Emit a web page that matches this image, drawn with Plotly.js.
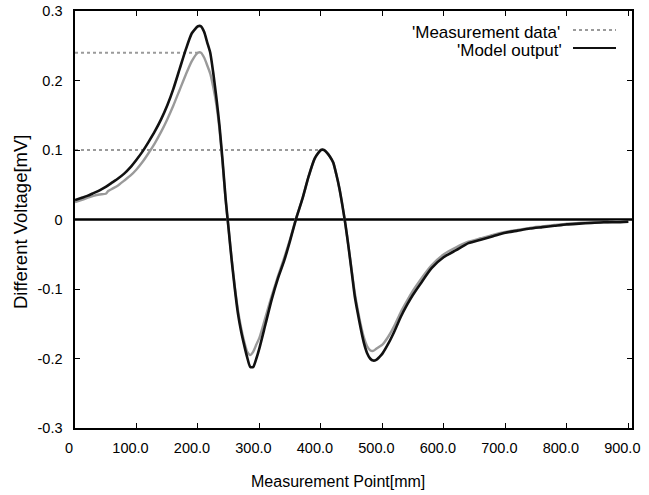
<!DOCTYPE html>
<html>
<head>
<meta charset="utf-8">
<script src="https://cdn.plot.ly/plotly-3.0.1.min.js"></script>
<style>html,body{margin:0;padding:0;background:#fff;}#chart{width:649px;height:495px;}</style>
</head>
<body>
<div id="chart"></div>
<script>
// Model output (black)
const modelX = [0,10,20,30,40,50,60,70,80,90,100,110,120,130,140,150,160,170,180,190,200,205,210,215,220,225,230,235,240,245,250,255,260,265,270,275,280,285,290,295,300,310,320,330,340,350,360,370,380,390,400,405,410,415,420,425,430,435,440,445,450,455,460,465,470,475,480,485,490,495,500,510,520,530,540,550,560,580,600,620,640,660,680,700,720,740,760,780,800,820,840,860,880,900];
const modelY = [0.028,0.031,0.034,0.038,0.042,0.047,0.053,0.059,0.066,0.075,0.086,0.098,0.112,0.127,0.144,0.164,0.188,0.216,0.244,0.268,0.278,0.278,0.270,0.255,0.240,0.210,0.175,0.135,0.085,0.030,-0.015,-0.060,-0.100,-0.135,-0.160,-0.180,-0.198,-0.212,-0.212,-0.200,-0.185,-0.150,-0.115,-0.085,-0.060,-0.030,0.002,0.030,0.062,0.088,0.100,0.100,0.096,0.090,0.082,0.065,0.045,0.020,-0.008,-0.040,-0.075,-0.110,-0.135,-0.158,-0.178,-0.192,-0.200,-0.203,-0.202,-0.198,-0.193,-0.178,-0.160,-0.140,-0.123,-0.108,-0.095,-0.070,-0.054,-0.044,-0.034,-0.029,-0.024,-0.019,-0.016,-0.013,-0.011,-0.009,-0.007,-0.006,-0.005,-0.004,-0.004,-0.003];
// Measurement data (gray)
const measX = [0,10,20,30,40,50,54,60,70,80,90,100,110,120,130,140,150,160,170,180,190,200,205,210,215,220,225,230,235,240,245,250,255,260,265,270,275,280,285,290,295,300,310,320,330,340,350,360,370,380,390,400,405,410,415,420,425,430,435,440,445,450,455,460,465,470,475,480,485,490,495,500,510,520,530,540,550,560,580,600,620,640,660,680,700,720,740,760,780,800,820,840,860,880,900];
const measY = [0.025,0.028,0.031,0.034,0.036,0.037,0.041,0.044,0.049,0.056,0.063,0.072,0.083,0.096,0.110,0.126,0.144,0.164,0.186,0.208,0.228,0.240,0.240,0.233,0.222,0.210,0.190,0.165,0.130,0.082,0.028,-0.015,-0.058,-0.097,-0.130,-0.155,-0.175,-0.190,-0.195,-0.190,-0.180,-0.170,-0.140,-0.110,-0.082,-0.056,-0.028,0.003,0.030,0.062,0.088,0.100,0.100,0.096,0.090,0.082,0.065,0.045,0.020,-0.008,-0.040,-0.073,-0.105,-0.130,-0.152,-0.170,-0.182,-0.188,-0.189,-0.186,-0.183,-0.180,-0.168,-0.152,-0.133,-0.117,-0.102,-0.089,-0.066,-0.050,-0.040,-0.032,-0.027,-0.022,-0.018,-0.015,-0.012,-0.010,-0.008,-0.006,-0.005,-0.004,-0.004,-0.003,-0.003];
// Horizontal guide segments of the measurement data (peak levels)
const guideLevels = [0.24, 0.10];
const guideEnds = [205, 405];
// Ticks
const xTickVals = [0,100,200,300,400,500,600,700,800,900];
const xTickText = ["0","100.0","200.0","300.0","400.0","500.0","600.0","700.0","800.0","900.0"];
const yTickVals = [-0.3,-0.2,-0.1,0,0.1,0.2,0.3];
const yTickText = ["-0.3","-0.2","-0.1","0","0.1","0.2","0.3"];
const seriesNames = ["'Measurement data'","'Model output'"];
const xTitle = 'Measurement Point[mm]';
const yTitle = 'Different Voltage[mV]';

const gray = '#9a9a9a';
const traces = [];
guideLevels.forEach((lv, i) => {
  traces.push({x:[0, guideEnds[i]], y:[lv, lv], mode:'lines', showlegend:false, hoverinfo:'skip',
    line:{color:gray, width:2, dash:'dot'}});
});
traces.push({x:[0, 906], y:[0, 0], mode:'lines', showlegend:false, hoverinfo:'skip', line:{color:'#000', width:2.4}});
traces.push({x:measX, y:measY, mode:'lines', name:seriesNames[0], showlegend:false, line:{color:gray, width:2.4, shape:'spline', smoothing:0.6}});
traces.push({x:modelX, y:modelY, mode:'lines', name:seriesNames[1], showlegend:false, line:{color:'#111', width:2.6, shape:'spline', smoothing:0.6}});

const FF = '"Liberation Sans", Arial, Helvetica, sans-serif';
const L = 75, R = 632, T = 11, B = 428;
const px = v => (v - L) / (R - L);
const py = v => (B - v) / (B - T);
const layout = {
  width:649, height:495,
  margin:{l:L, r:649-R, t:T, b:495-B},
  paper_bgcolor:'#fff', plot_bgcolor:'#fff',
  font:{family:FF, color:'#000', size:14},
  showlegend:false,
  xaxis:{range:[0,906], tickvals:xTickVals, ticktext:xTickText, ticks:'inside', ticklen:5, tickcolor:'#000',
    showline:true, mirror:'ticks', linecolor:'#000', linewidth:1.6, showgrid:false, zeroline:false,
    ticklabelstandoff:6, ticklabelshift:-6, tickfont:{family:FF, size:14.5}},
  yaxis:{range:[-0.3,0.3], tickvals:yTickVals, ticktext:yTickText, ticks:'inside', ticklen:5, tickcolor:'#000',
    showline:true, mirror:'ticks', linecolor:'#000', linewidth:1.6, showgrid:false, zeroline:false,
    ticklabelstandoff:8, tickfont:{family:FF, size:14.5}},
  annotations:[
    {xref:'paper', yref:'paper', x:px(338), y:py(481), xanchor:'center', yanchor:'middle', showarrow:false,
     text:xTitle, font:{family:FF, size:16}},
    {xref:'paper', yref:'paper', x:px(21), y:py(222), xanchor:'center', yanchor:'middle', showarrow:false, textangle:-90,
     text:yTitle, font:{family:FF, size:18.5}},
    {xref:'paper', yref:'paper', x:px(562), y:py(32), xanchor:'right', yanchor:'middle', showarrow:false,
     text:seriesNames[0], font:{family:FF, size:17}},
    {xref:'paper', yref:'paper', x:px(564), y:py(51), xanchor:'right', yanchor:'middle', showarrow:false,
     text:seriesNames[1], font:{family:FF, size:17}}
  ],
  shapes:[
    {type:'line', xref:'paper', yref:'paper', x0:px(573), x1:px(616), y0:py(30), y1:py(30), line:{color:gray, width:2, dash:'dot'}},
    {type:'line', xref:'paper', yref:'paper', x0:px(573), x1:px(616), y0:py(48), y1:py(48), line:{color:'#111', width:2}}
  ]
};
Plotly.newPlot('chart', traces, layout, {staticPlot:true, displayModeBar:false});
</script>
</body>
</html>
